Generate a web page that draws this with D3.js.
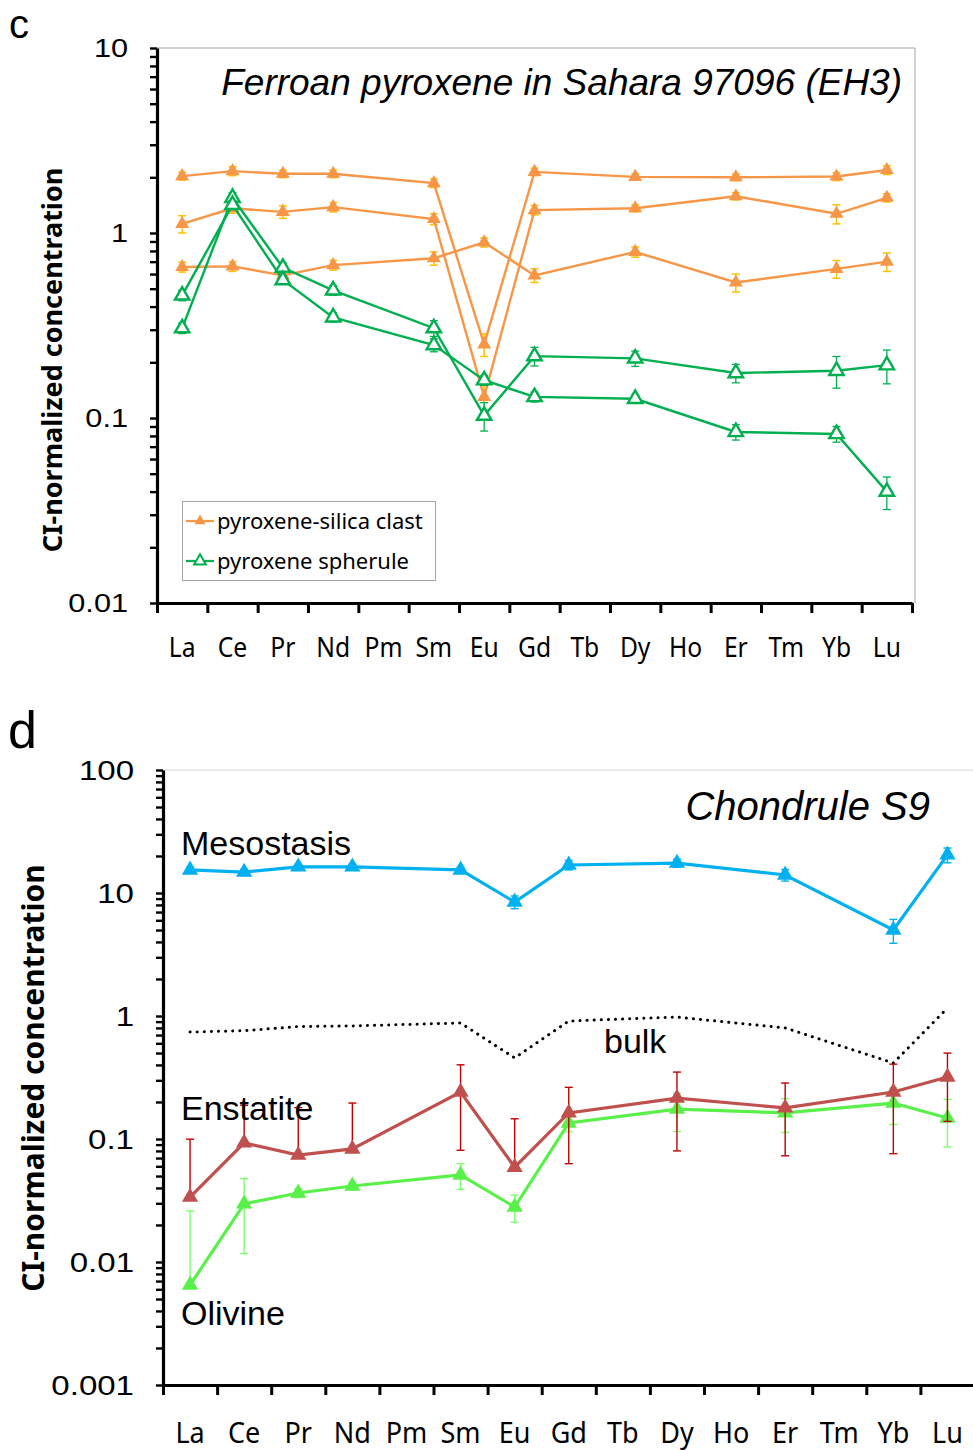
<!DOCTYPE html>
<html><head><meta charset="utf-8">
<script src="https://cdn.jsdelivr.net/npm/d3@7"></script>
<style>body{margin:0;background:#fff}svg{display:block}</style>
</head><body>
<svg id="chart" width="973" height="1450"></svg>
<script>
// ---------- data ----------
const elements = ["La","Ce","Pr","Nd","Pm","Sm","Eu","Gd","Tb","Dy","Ho","Er","Tm","Yb","Lu"];

// panel c : Ferroan pyroxene in Sahara 97096 (EH3)
const clastA    = [2.03,2.16,2.09,2.09,null,1.86,0.25,2.14,null,2.01,null,2.00,null,2.02,2.19];
const clastAErr = [0.10,0.12,0.10,0.10,null,0.10,0.035,0.10,null,0.08,null,0.08,null,0.10,0.12];
const clastB    = [1.12,1.36,1.30,1.38,null,1.19,0.13,1.33,null,1.36,null,1.58,null,1.27,1.55];
const clastBErr = [0.12,0.08,0.10,0.08,null,0.08,0.02,0.08,null,0.06,null,0.07,null,0.15,0.08];
const clastC    = [0.655,0.66,0.59,0.67,null,0.73,0.89,0.59,null,0.79,null,0.54,null,0.64,0.70];
const clastCErr = [0.04,0.04,0.04,0.04,null,0.06,0.05,0.05,null,0.05,null,0.06,null,0.07,0.08];
const spherA    = [0.306,1.55,0.65,0.49,null,0.306,0.103,0.216,null,0.21,null,0.175,null,0.18,0.193];
const spherAErr = [0.02,0.10,0.04,0.03,null,0.03,0.018,0.025,null,0.02,null,0.02,null,0.035,0.04];
const spherB    = [0.46,1.42,0.557,0.35,null,0.248,0.16,0.13,null,0.127,null,0.084,null,0.082,0.040];
const spherBErr = [0.03,0.08,0.03,0.02,null,0.02,0.01,0.008,null,0.006,null,0.008,null,0.008,0.008];
const cTicks = [0.01,0.1,1,10];
const cTickLabels = ["0.01","0.1","1","10"];
const cLegend = ["pyroxene-silica clast","pyroxene spherule"];

// panel d : Chondrule S9
const mesostasis    = [15.4,14.8,16.3,16.3,null,15.4,8.45,16.9,null,17.5,null,14.0,null,5.0,20.4];
const mesostasisErr = [0.8,0.8,0.8,0.8,null,0.8,1.0,1.5,null,1.3,null,1.5,null,1.1,2.8];
const bulk          = [0.74,0.76,0.82,0.83,null,0.877,0.456,0.91,null,0.98,null,0.80,null,0.415,1.16];
const enstatite     = [0.0337,0.093,0.074,0.083,null,0.241,0.059,0.163,null,0.215,null,0.179,null,0.241,0.319];
const enstatiteErr  = [0.066,0.095,0.106,0.113,null,0.16,0.087,0.10,null,0.135,null,0.106,null,0.165,0.18];
const olivine       = [0.0065,0.0297,0.0364,0.0415,null,0.051,0.028,0.135,null,0.175,null,0.163,null,0.196,0.148];
const olivineErr    = [0.0195,0.018,0.003,0.003,null,0.012,0.007,0.02,null,0.06,null,0.05,null,0.065,0.062];
const dTicks = [0.001,0.01,0.1,1,10,100];
const dTickLabels = ["0.001","0.01","0.1","1","10","100"];

// ---------- drawing ----------
const svg = d3.select("#chart");
const ORANGE="#f79646", ORANGE_ERR="#ffc000", GREEN="#00b050";
const BLUE="#00b0f0", RED="#c0504d", RED_ERR="#c00000", LGREEN="#59f04a", LGREEN_ERR="#7dff70";

function minorTicks(dom){
  const out=[];
  for(let d=dom[0]; d<dom[1]*0.999; d*=10){
    for(let k=1;k<10;k++) out.push(+(d*k).toPrecision(6));
  }
  out.push(dom[1]);
  return out;
}

function panel(cfg){
  const g = svg.append("g");
  const x = d3.scaleBand().domain(elements).range([cfg.x0,cfg.x1]).padding(0);
  const xi = d3.scaleLinear().domain([0,elements.length]).range([cfg.x0,cfg.x1]);
  const y = d3.scaleLog().domain(cfg.domain).range([cfg.yBot,cfg.yTop]);
  const cx = e => x(e)+x.bandwidth()/2;

  if(cfg.frame){
    g.append("path").attr("d",`M${cfg.x0},${cfg.yTop}H${cfg.frameRight}V${cfg.yBot}`)
      .attr("fill","none").attr("stroke","#a6a6a6").attr("stroke-width",1);
  } else {
    g.append("line").attr("x1",cfg.x0).attr("x2",973).attr("y1",cfg.yTop).attr("y2",cfg.yTop)
      .attr("stroke","#e4e4e4").attr("stroke-width",1.5);
  }

  const ya = g.append("g").attr("transform",`translate(${cfg.x0},0)`)
    .call(d3.axisLeft(y).tickValues(minorTicks(cfg.domain)).tickSize(7).tickSizeOuter(0).tickFormat(""));
  ya.select(".domain").attr("stroke","#000").attr("stroke-width",3.2);
  ya.selectAll(".tick line").attr("stroke","#000").attr("stroke-width",2.4);
  cfg.ticks.forEach((v,i)=>{
    g.append("text").attr("transform",`translate(${cfg.x0-29},${y(v)}) scale(1.18,1)`)
      .attr("text-anchor","end").attr("dy","0.36em")
      .attr("font-family","Liberation Sans, Arial").attr("font-size",cfg.yFont)
      .text(cfg.tickLabels[i]);
  });

  const xa = g.append("g").attr("transform",`translate(0,${cfg.yBot})`)
    .call(d3.axisBottom(xi).tickValues(d3.range(elements.length+1)).tickSize(10).tickSizeOuter(0).tickFormat(""));
  xa.select(".domain").attr("stroke","#000").attr("stroke-width",3.2);
  xa.selectAll(".tick line").attr("stroke","#000").attr("stroke-width",3);
  elements.forEach(e=>{
    g.append("text").attr("transform",`translate(${cx(e)},${cfg.xLabelY}) scale(${cfg.xScale},1)`)
      .attr("text-anchor","middle").attr("font-family","Noto Sans, sans-serif")
      .attr("font-size",cfg.xFont).text(e);
  });

  g.append("text").attr("transform",`translate(${cfg.titleX},${cfg.titleY}) rotate(-90)`)
    .attr("text-anchor","middle").attr("font-family","Noto Sans, sans-serif").attr("font-weight","bold")
    .attr("font-size",cfg.titleFont).text("CI-normalized concentration");

  const line = d3.line().x(d=>cx(d.e)).y(d=>y(d.v));
  const pts = vals => elements.map((e,i)=>({e,v:vals[i],i})).filter(d=>d.v!=null);

  cfg.series.forEach(s=>{
    const p = pts(s.values);
    const sg = g.append("g");
    if(s.err){
      p.forEach(d=>{
        const er = s.err[d.i]; if(er==null) return;
        const hi = d.v+er, lo = d.v-er;
        const X = cx(d.e);
        const y1 = y(hi), y0 = lo>0 ? y(lo) : y(d.v);
        sg.append("line").attr("x1",X).attr("x2",X).attr("y1",y1).attr("y2",y0)
          .attr("stroke",s.errColor).attr("stroke-width",s.errWidth);
        sg.append("line").attr("x1",X-s.cap).attr("x2",X+s.cap).attr("y1",y1).attr("y2",y1)
          .attr("stroke",s.errColor).attr("stroke-width",s.errWidth);
        if(lo>0) sg.append("line").attr("x1",X-s.cap).attr("x2",X+s.cap).attr("y1",y0).attr("y2",y0)
          .attr("stroke",s.errColor).attr("stroke-width",s.errWidth);
      });
    }
    sg.append("path").datum(p).attr("d",line).attr("fill","none")
      .attr("stroke",s.color).attr("stroke-width",s.width)
      .attr("stroke-dasharray",s.dash||null).attr("stroke-linecap",s.dash?"round":"butt");
    if(s.marker){
      const sym = d3.symbol().type(d3.symbolTriangle).size(s.msize);
      sg.selectAll("path.m").data(p).join("path").attr("class","m")
        .attr("transform",d=>`translate(${cx(d.e)},${y(d.v)})`).attr("d",sym)
        .attr("fill",s.hollow?"#fff":s.color).attr("stroke",s.hollow?s.color:"none")
        .attr("stroke-width",s.hollow?2.4:0);
    }
  });
  return {g,x,y,cx};
}

// ---- panel c ----
panel({
  x0:157, x1:912, frameRight:915, yTop:48, yBot:603, domain:[0.01,10], frame:true,
  ticks:cTicks, tickLabels:cTickLabels, yFont:26,
  xLabelY:657, xFont:28, xScale:0.88,
  titleX:62, titleY:360, titleFont:27,
  series:[
    {values:clastA,err:clastAErr,color:ORANGE,errColor:ORANGE_ERR,errWidth:1.5,cap:4,width:2.4,marker:true,msize:85},
    {values:clastB,err:clastBErr,color:ORANGE,errColor:ORANGE_ERR,errWidth:1.5,cap:4,width:2.4,marker:true,msize:85},
    {values:clastC,err:clastCErr,color:ORANGE,errColor:ORANGE_ERR,errWidth:1.5,cap:4,width:2.4,marker:true,msize:85},
    {values:spherA,err:spherAErr,color:GREEN,errColor:GREEN,errWidth:1.3,cap:4,width:2.4,marker:true,msize:90,hollow:true},
    {values:spherB,err:spherBErr,color:GREEN,errColor:GREEN,errWidth:1.3,cap:4,width:2.4,marker:true,msize:90,hollow:true}
  ]
});
svg.append("text").attr("x",902).attr("y",95).attr("text-anchor","end")
  .attr("font-family","Liberation Sans, Arial").attr("font-style","italic").attr("font-size",37)
  .text("Ferroan pyroxene in Sahara 97096 (EH3)");
const lg = svg.append("g");
lg.append("rect").attr("x",182.5).attr("y",501.5).attr("width",253).attr("height",79)
  .attr("fill","#fff").attr("stroke","#a6a6a6").attr("stroke-width",1);
[[ORANGE,false,521],[GREEN,true,561]].forEach((d,i)=>{
  lg.append("line").attr("x1",186).attr("x2",214).attr("y1",d[2]).attr("y2",d[2])
    .attr("stroke",d[0]).attr("stroke-width",2.2);
  lg.append("path").attr("transform",`translate(200,${d[2]})`)
    .attr("d",d3.symbol().type(d3.symbolTriangle).size(d[1]?60:55))
    .attr("fill",d[1]?"#fff":d[0]).attr("stroke",d[1]?d[0]:"none").attr("stroke-width",2);
  lg.append("text").attr("x",217).attr("y",d[2]).attr("dy","0.35em")
    .attr("font-family","Noto Sans, sans-serif").attr("font-size",22).text(cLegend[i]);
});
svg.append("text").attr("x",9).attr("y",38).attr("font-family","Liberation Sans, Arial")
  .attr("font-size",40).text("c");

// ---- panel d ----
panel({
  x0:163, x1:974.5, yTop:770, yBot:1385, domain:[0.001,100], frame:false,
  ticks:dTicks, tickLabels:dTickLabels, yFont:28,
  xLabelY:1443, xFont:30, xScale:0.9,
  titleX:44, titleY:1078, titleFont:30,
  series:[
    {values:bulk,color:"#000",width:3,dash:"0.1,7",marker:false},
    {values:olivine,err:olivineErr,color:LGREEN,errColor:LGREEN_ERR,errWidth:1.4,cap:4,width:3.2,marker:true,msize:115},
    {values:enstatite,err:enstatiteErr,color:RED,errColor:RED_ERR,errWidth:1.4,cap:4,width:3.2,marker:true,msize:115},
    {values:mesostasis,err:mesostasisErr,color:BLUE,errColor:BLUE,errWidth:1.4,cap:4,width:3.2,marker:true,msize:115}
  ]
});
const dl = [["Mesostasis",181,855],["bulk",604,1053],["Enstatite",181,1120],["Olivine",181,1325]];
dl.forEach(d=>svg.append("text").attr("x",d[1]).attr("y",d[2])
  .attr("font-family","Liberation Sans, Arial").attr("font-size",34).text(d[0]));
svg.append("text").attr("x",930).attr("y",820).attr("text-anchor","end")
  .attr("font-family","Liberation Sans, Arial").attr("font-style","italic").attr("font-size",40)
  .text("Chondrule S9");
svg.append("text").attr("x",8).attr("y",748).attr("font-family","Liberation Sans, Arial")
  .attr("font-size",52).text("d");
</script>
</body></html>
